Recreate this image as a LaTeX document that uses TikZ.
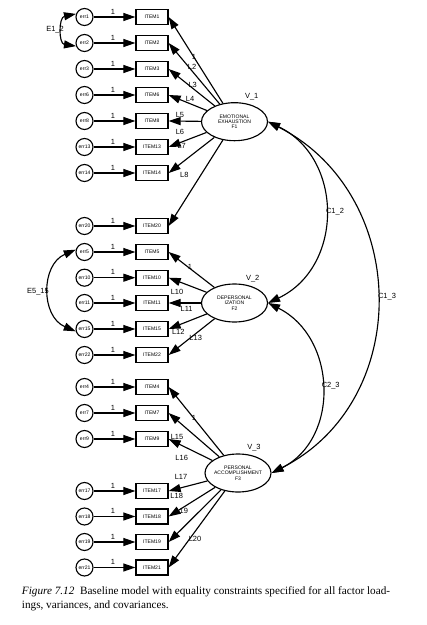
\documentclass[tikz,border=0pt]{standalone}
\usepackage{fontspec}
\newfontfamily\arialfont{Liberation Sans}
\newfontfamily\capfont{Liberation Serif}
\usetikzlibrary{arrows.meta,shapes.geometric}
\begin{document}
\begin{tikzpicture}[x=0.75pt,y=-0.75pt,
  errnode/.style={circle,draw,line width=0.85pt,minimum size=12.75pt,inner sep=0pt,font=\arialfont\fontsize{3.8}{4}\selectfont},
  itemnode/.style={rectangle,draw,line width=0.95pt,minimum width=24pt,minimum height=11.25pt,inner sep=0pt,font=\arialfont\fontsize{3.8}{4}\selectfont},
  factor/.style={ellipse,draw,line width=0.85pt,minimum width=49.5pt,minimum height=28.5pt,inner xsep=-1.5pt,inner ysep=0pt,align=center,font=\arialfont\fontsize{3.8}{4.1}\selectfont},
  pathline/.style={line width=0.85pt,-{Triangle[length=9pt,width=6pt]}},
  cov/.style={line width=0.85pt,{Triangle[length=9pt,width=6pt]}-{Triangle[length=9pt,width=6pt]}},
  lab/.style={font=\arialfont\fontsize{5.6}{6}\selectfont,inner sep=0pt},
]
\useasboundingbox (0,0) rectangle (427,625);

% factors
\node[factor] (F1) at (234.5,121.7) {EMOTIONAL\\EXHAUSTION\\F1};
\node[factor] (F2) at (234.5,303) {DEPERSONAL\\IZATION\\F2};
\node[factor] (F3) at (238,473) {PERSONAL\\ACCOMPLISHMENT\\F3};
\node[lab] (v1) at (251.7,96.7) {V\_1};
\node[lab] (v2) at (252.7,279) {V\_2};
\node[lab] (v3) at (254,447.5) {V\_3};

% errors and items
\foreach \n/\y in {1/17, 2/43, 3/69, 6/95, 8/121, 13/147, 14/173, 20/226, 5/252, 10/277.7, 11/303, 15/329, 22/355, 4/387, 7/413, 9/439, 17/491, 18/516.5, 19/542, 21/567.5} {
  \node[errnode] (e\n) at (84.5,\y) {err\n};
  \node[itemnode] (i\n) at (152,\y) {ITEM\n};
  \draw[pathline] (e\n) -- (i\n);
  \node[lab] (one\n) at (113,{\y-5.5}) {1};
}

% loadings
\foreach \n in {1,2,3,6,8,13,14,20} \draw[pathline] (F1) -- (i\n.east);
\foreach \n in {5,10,11,15,22} \draw[pathline] (F2) -- (i\n.east);
\foreach \n in {4,7,9,17,18,19,21} \draw[pathline] (F3) -- (i\n.east);

% loading labels
\node[lab] (l1a) at (194,57) {1};
\node[lab] (l2) at (192,67) {L2};
\node[lab] (l3) at (192.7,85) {L3};
\node[lab] (l4) at (190,99) {L4};
\node[lab] (l5) at (180,115) {L5};
\node[lab] (l6) at (180,131.7) {L6};
\node[lab] (l7) at (181.7,146) {L7};
\node[lab] (l8) at (184.3,175) {L8};
\node[lab] (l1b) at (190,266.7) {1};
\node[lab] (l10) at (177,291.7) {L10};
\node[lab] (l11) at (186.7,309.3) {L11};
\node[lab] (l12) at (178.3,331.7) {L12};
\node[lab] (l13) at (195.7,337.7) {L13};
\node[lab] (l1c) at (194,417.7) {1};
\node[lab] (l15) at (177,436.7) {L15};
\node[lab] (l16) at (181.7,458.3) {L16};
\node[lab] (l17) at (181,477) {L17};
\node[lab] (l18) at (176.7,496) {L18};
\node[lab] (l19) at (181.7,510.7) {L19};
\node[lab] (l20) at (195,539.3) {L20};

% covariances
\draw[cov] (e1.160) .. controls (58.5,17.4) and (58.5,43.6) .. (e2.200);
\node[lab] (E12) at (55,30) {E1\_2};
\draw[cov] (e5.165) .. controls (40.6,264.6) and (40.6,316.4) .. (e15.195);
\node[lab] (E515) at (38,292) {E5\_15};
\draw[cov] (F1.east) .. controls (343.9,158) and (343.9,267) .. (F2.east);
\node[lab] (C12) at (335,211.7) {C1\_2};
\draw[cov] (F1.east) .. controls (410.4,194.3) and (413.9,400.7) .. (F3.east);
\node[lab] (C13) at (387,296.7) {C1\_3};
\draw[cov] (F2.east) .. controls (336.8,337.3) and (340.3,438.7) .. (F3.east);
\node[lab] (C23) at (330.7,385.7) {C2\_3};

% caption
\node[anchor=north west,align=left,inner sep=0pt,font=\capfont\fontsize{8.4}{10.5}\selectfont] (cap) at (21.7,586)
  {\textit{Figure 7.12}\enspace Baseline model with equality constraints specified for all factor load-\\ings, variances, and covariances.};
\end{tikzpicture}
\end{document}
